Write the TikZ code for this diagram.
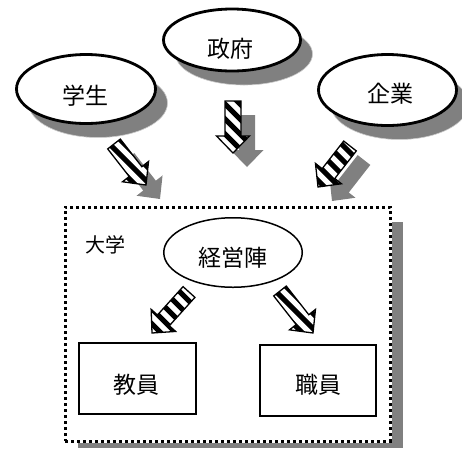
\documentclass[tikz,border=0pt]{standalone}
\usepackage{fontspec}
\newfontfamily\jp{Noto Sans CJK JP}
\usetikzlibrary{calc,shapes.geometric,shadows}
\definecolor{shadowgray}{HTML}{808080}
\newcommand\defarrow[1]{%
 \coordinate (#1-hb) at ($(#1-h)!17pt!(#1-t)$);
 \coordinate (#1-1) at ($(#1-t)!8pt!90:(#1-h)$);
 \coordinate (#1-2) at ($(#1-hb)!8pt!90:(#1-h)$);
 \coordinate (#1-3) at ($(#1-hb)!16.5pt!90:(#1-h)$);
 \coordinate (#1-4) at ($(#1-hb)!16.5pt!-90:(#1-h)$);
 \coordinate (#1-5) at ($(#1-hb)!8pt!-90:(#1-h)$);
 \coordinate (#1-6) at ($(#1-t)!8pt!-90:(#1-h)$);
 \coordinate (#1-m) at ($(#1-t)!0.5!(#1-h)$);
}
\newcommand\drawblock[2]{%
 \defarrow{#1}
 \ifnum#2=1
  \fill[shadowgray, transform canvas={shift={(14pt,-14pt)}}] (#1-1) -- (#1-2) -- (#1-3) -- (#1-h) -- (#1-4) -- (#1-5) -- (#1-6) -- cycle;
 \fi
 \fill[white] (#1-1) -- (#1-2) -- (#1-3) -- (#1-h) -- (#1-4) -- (#1-5) -- (#1-6) -- cycle;
 \begin{scope}
  \clip (#1-1) -- (#1-2) -- (#1-3) -- (#1-h) -- (#1-4) -- (#1-5) -- (#1-6) -- cycle;
  \foreach \o in {-90,-75,...,90} \draw[line width=5pt] ([shift={({\o-60},-60)}]#1-m) -- ++(120,120);
 \end{scope}
 \draw[line width=1.3pt, line join=miter] (#1-1) -- (#1-2) -- (#1-3) -- (#1-h) -- (#1-4) -- (#1-5) -- (#1-6) -- cycle;
}
\begin{document}
\begin{tikzpicture}[x=1pt,y=-1pt,
  ell/.style={ellipse, draw, line width=2.8pt, fill=white, inner sep=0pt,
    drop shadow={shadow xshift=12pt, shadow yshift=-14pt, fill=shadowgray, opacity=1, draw=gray!40, line width=0.6pt}},
  lbl/.style={inner sep=0pt, font=\jp\fontsize{23}{23}\selectfont},
  boxn/.style={draw, line width=2pt, fill=white, inner sep=0pt}]
\useasboundingbox (0,0) rectangle (462,448);
% university frame with shadow
\fill[shadowgray] (78,222) rectangle (403,448);
\fill[white] (63.5,205.5) rectangle (391.5,442.5);
\node[draw, dash pattern=on 3pt off 3pt, line width=3pt, minimum width=325pt, minimum height=234pt, inner sep=0pt] (univ) at (227.5,324) {};
\node[inner sep=0pt, font=\jp\fontsize{20}{20}\selectfont] (univt) at (105,245) {大学};
% outer ellipses
\node[ell, minimum width=137pt, minimum height=62pt] (gov) at (232,40) {};
\node[ell, minimum width=139pt, minimum height=69pt] (stu) at (86,89) {};
\node[ell, minimum width=138pt, minimum height=71pt] (ent) at (387.5,90) {};
\node[lbl] (govt) at (230,49) {政府};
\node[lbl] (stut) at (85,96) {学生};
\node[lbl] (entt) at (390,94) {企業};
% inner shapes
\node[ellipse, draw, line width=1.5pt, fill=white, inner sep=0pt, minimum width=138.5pt, minimum height=69.5pt] (mgmt) at (233,252.5) {};
\node[lbl] (mgmtt) at (232.5,258) {経営陣};
\node[boxn, minimum width=117pt, minimum height=71pt] (fac) at (137.5,378.5) {};
\node[boxn, minimum width=116pt, minimum height=71pt] (stf) at (318,380.5) {};
\node[lbl] (fact) at (136.5,385) {教員};
\node[lbl] (stft) at (318,385) {職員};
% block arrows
\coordinate (ga-t) at (233,101); \coordinate (ga-h) at (233,153);
\coordinate (sa-t) at (114,144); \coordinate (sa-h) at (146,185);
\coordinate (ea-t) at (350,146); \coordinate (ea-h) at (318,187);
\coordinate (la-t) at (189,292); \coordinate (la-h) at (152,333);
\coordinate (ra-t) at (280,291); \coordinate (ra-h) at (313,333);
\drawblock{ga}{1}
\drawblock{sa}{1}
\drawblock{ea}{1}
\drawblock{la}{0}
\drawblock{ra}{0}
\end{tikzpicture}
\end{document}
